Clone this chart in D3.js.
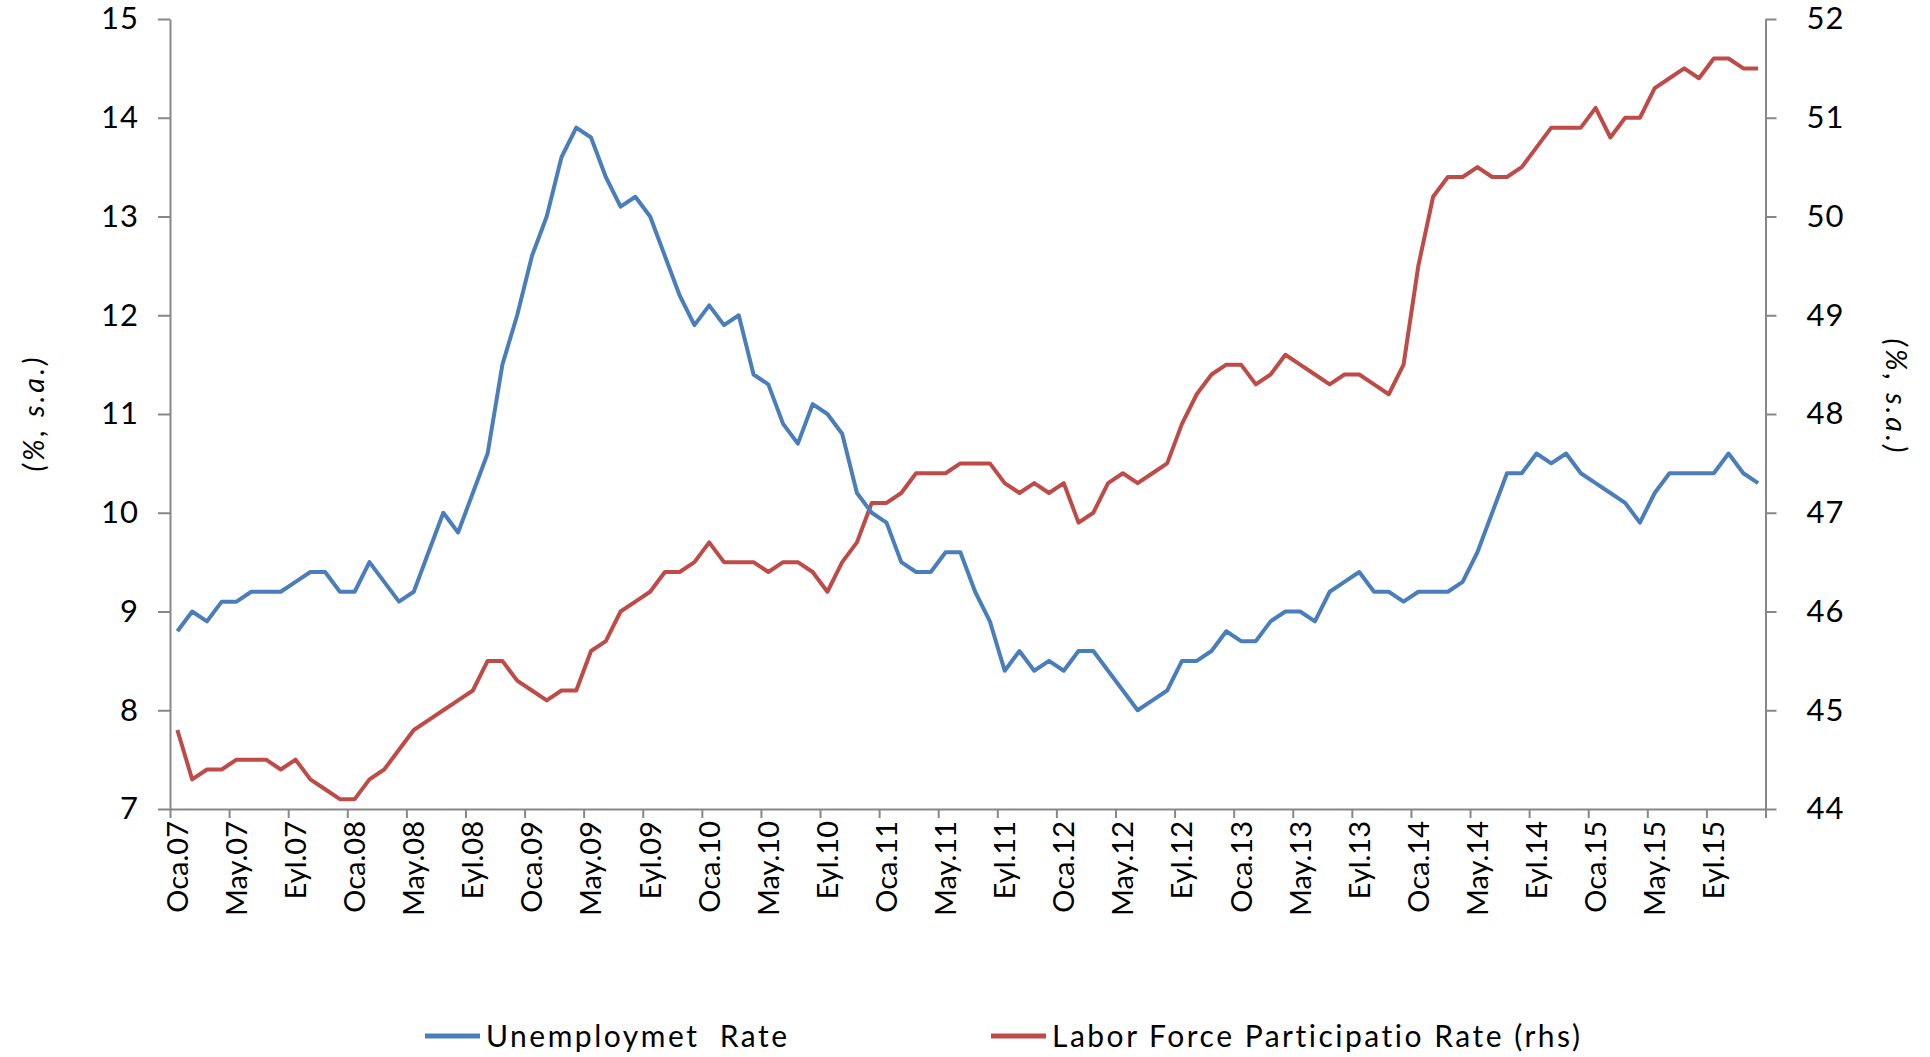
<!DOCTYPE html>
<html>
<head>
    <meta charset="utf-8">
    <title>Unemployment and Labor Force Participation</title>
    <script src="https://cdn.jsdelivr.net/npm/d3@7"></script>
    <style>
        body { margin: 0; background: #fff; }
        svg, svg text { font-family: Lato, "Open Sans", sans-serif; }
        .axis path, .axis line { stroke: #878787; stroke-width: 2px; }
        .axis text { font-family: Lato, "Open Sans", sans-serif; font-size: 29px; fill: #000; }
        .yaxis text { font-size: 31px; letter-spacing: 1px; }
        .series { fill: none; stroke-width: 4px; stroke-linejoin: round; }
        .title { font-size: 29px; font-style: italic; letter-spacing: 3px; }
        .legend text { font-size: 30px; letter-spacing: 2.5px; white-space: pre; }
    </style>
</head>
<body>
<script>
    // monthly, Jan 2007 - Dec 2015 (Turkish month abbreviations)
    var months = ["Oca", "Şub", "Mar", "Nis", "May", "Haz", "Tem", "Ağu", "Eyl", "Eki", "Kas", "Ara"];
    var years = ["07", "08", "09", "10", "11", "12", "13", "14", "15"];
    var categories = [];
    years.forEach(function(y) {
        months.forEach(function(m) { categories.push(m + "." + y); });
    });

    var unemployment = [
        8.8, 9.0, 8.9, 9.1, 9.1, 9.2, 9.2, 9.2, 9.3, 9.4,
        9.4, 9.2, 9.2, 9.5, 9.3, 9.1, 9.2, 9.6, 10.0, 9.8,
        10.2, 10.6, 11.5, 12.0, 12.6, 13.0, 13.6, 13.9, 13.8, 13.4,
        13.1, 13.2, 13.0, 12.6, 12.2, 11.9, 12.1, 11.9, 12.0, 11.4,
        11.3, 10.9, 10.7, 11.1, 11.0, 10.8, 10.2, 10.0, 9.9, 9.5,
        9.4, 9.4, 9.6, 9.6, 9.2, 8.9, 8.4, 8.6, 8.4, 8.5,
        8.4, 8.6, 8.6, 8.4, 8.2, 8.0, 8.1, 8.2, 8.5, 8.5,
        8.6, 8.8, 8.7, 8.7, 8.9, 9.0, 9.0, 8.9, 9.2, 9.3,
        9.4, 9.2, 9.2, 9.1, 9.2, 9.2, 9.2, 9.3, 9.6, 10.0,
        10.4, 10.4, 10.6, 10.5, 10.6, 10.4, 10.3, 10.2, 10.1, 9.9,
        10.2, 10.4, 10.4, 10.4, 10.4, 10.6, 10.4, 10.3
    ];

    var participation = [
        44.8, 44.3, 44.4, 44.4, 44.5, 44.5, 44.5, 44.4, 44.5, 44.3,
        44.2, 44.1, 44.1, 44.3, 44.4, 44.6, 44.8, 44.9, 45.0, 45.1,
        45.2, 45.5, 45.5, 45.3, 45.2, 45.1, 45.2, 45.2, 45.6, 45.7,
        46.0, 46.1, 46.2, 46.4, 46.4, 46.5, 46.7, 46.5, 46.5, 46.5,
        46.4, 46.5, 46.5, 46.4, 46.2, 46.5, 46.7, 47.1, 47.1, 47.2,
        47.4, 47.4, 47.4, 47.5, 47.5, 47.5, 47.3, 47.2, 47.3, 47.2,
        47.3, 46.9, 47.0, 47.3, 47.4, 47.3, 47.4, 47.5, 47.9, 48.2,
        48.4, 48.5, 48.5, 48.3, 48.4, 48.6, 48.5, 48.4, 48.3, 48.4,
        48.4, 48.3, 48.2, 48.5, 49.5, 50.2, 50.4, 50.4, 50.5, 50.4,
        50.4, 50.5, 50.7, 50.9, 50.9, 50.9, 51.1, 50.8, 51.0, 51.0,
        51.3, 51.4, 51.5, 51.4, 51.6, 51.6, 51.5, 51.5
    ];

    var leftTicks = [7, 8, 9, 10, 11, 12, 13, 14, 15];
    var rightTicks = [44, 45, 46, 47, 48, 49, 50, 51, 52];
    var tickLabels = categories.filter(function(d, i) { return i % 4 === 0; });

    var seriesNames = ["Unemploymet  Rate", "Labor Force Participatio Rate (rhs)"];
    var colors = ["#4a7ebb", "#be4b48"];

    var width = 1930, height = 1057;
    var plotLeft = 170, plotRight = 1765.5, plotTop = 19, plotBottom = 809;

    var svg = d3.select("body").append("svg")
        .attr("width", width)
        .attr("height", height);

    var x = d3.scaleBand().domain(categories).range([plotLeft, plotRight]);
    var xi = d3.scaleLinear().domain([0, categories.length]).range([plotLeft, plotRight]);
    var yL = d3.scaleLinear().domain([7, 15]).range([plotBottom, plotTop]);
    var yR = d3.scaleLinear().domain([44, 52]).range([plotBottom, plotTop]);

    function cx(i) { return x(categories[i]) + x.bandwidth() / 2; }

    // x axis: tick marks every 4 months on band boundaries
    svg.append("g")
        .attr("class", "axis")
        .attr("transform", "translate(0," + plotBottom + ")")
        .call(d3.axisBottom(xi)
            .tickValues(d3.range(0, categories.length + 1, 4))
            .tickSize(9)
            .tickSizeOuter(0)
            .tickFormat(""));

    // x labels at the band centres
    var xl = svg.append("g")
        .attr("class", "axis")
        .attr("transform", "translate(0," + plotBottom + ")")
        .call(d3.axisBottom(x).tickValues(tickLabels).tickSize(0));
    xl.select(".domain").remove();
    xl.selectAll("text")
        .attr("transform", "rotate(-90)")
        .attr("x", -12)
        .attr("y", 0)
        .attr("dy", "0.36em")
        .style("text-anchor", "end");

    svg.append("g")
        .attr("class", "axis yaxis")
        .attr("transform", "translate(" + plotLeft + ",0)")
        .call(d3.axisLeft(yL).tickValues(leftTicks).tickSize(12).tickSizeOuter(0).tickPadding(19));

    svg.append("g")
        .attr("class", "axis yaxis")
        .attr("transform", "translate(" + plotRight + ",0)")
        .call(d3.axisRight(yR).tickValues(rightTicks).tickSize(11).tickSizeOuter(0).tickPadding(30));

    // axis titles
    svg.append("text")
        .attr("class", "title")
        .attr("transform", "translate(44,413) rotate(-90)")
        .attr("text-anchor", "middle")
        .text("(%, s.a.)");

    svg.append("text")
        .attr("class", "title")
        .attr("transform", "translate(1886,397) rotate(90)")
        .attr("text-anchor", "middle")
        .text("(%, s.a.)");

    var lineL = d3.line()
        .x(function(d, i) { return cx(i); })
        .y(function(d) { return yL(d); });
    var lineR = d3.line()
        .x(function(d, i) { return cx(i); })
        .y(function(d) { return yR(d); });

    svg.append("path")
        .datum(participation)
        .attr("class", "series")
        .attr("stroke", colors[1])
        .attr("d", lineR);

    svg.append("path")
        .datum(unemployment)
        .attr("class", "series")
        .attr("stroke", colors[0])
        .attr("d", lineL);

    // legend
    var legendX = [425, 991];
    var legend = svg.append("g").attr("class", "legend");
    seriesNames.forEach(function(name, i) {
        legend.append("line")
            .attr("x1", legendX[i]).attr("x2", legendX[i] + 55)
            .attr("y1", 1036).attr("y2", 1036)
            .attr("stroke", colors[i])
            .attr("stroke-width", 5);
        legend.append("text")
            .attr("x", legendX[i] + 61)
            .attr("y", 1036)
            .attr("dy", "0.35em")
            .text(name);
    });
</script>
</body>
</html>
